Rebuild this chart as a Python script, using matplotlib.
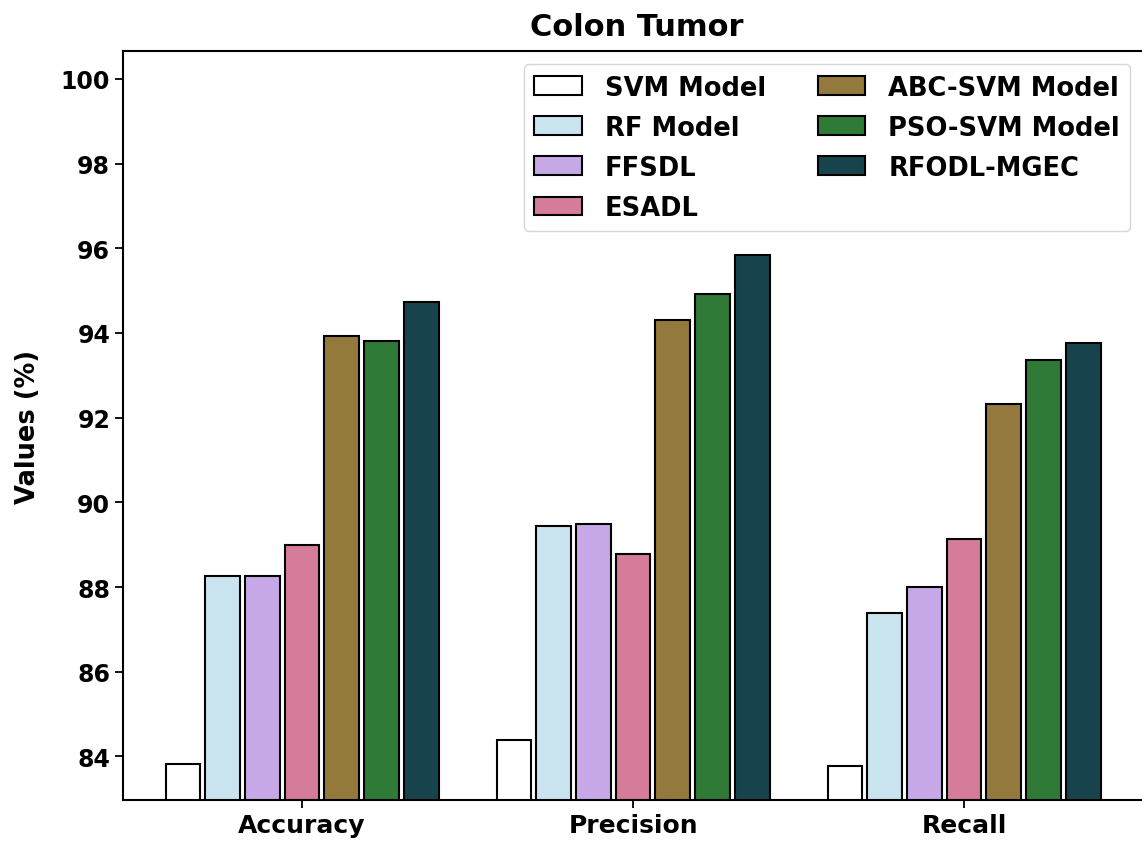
import numpy as np
import matplotlib.pyplot as plt

metrics = ['Accuracy', 'Precision', 'Recall']
models = ['SVM Model', 'RF Model', 'FFSDL', 'ESADL',
          'ABC-SVM Model', 'PSO-SVM Model', 'RFODL-MGEC']

svm = [83.83, 84.38, 83.77]
rf = [88.27, 89.45, 87.38]
ffsdl = [88.26, 89.49, 87.99]
esadl = [89.00, 88.78, 89.13]
abc_svm = [93.94, 94.31, 92.32]
pso_svm = [93.82, 94.91, 93.37]
rfodl_mgec = [94.74, 95.83, 93.76]

colors = ['#ffffff', '#c9e4ee', '#c6a8e6', '#d47c99',
          '#937a3c', '#2f7a36', '#17444c']

series = [svm, rf, ffsdl, esadl, abc_svm, pso_svm, rfodl_mgec]

plt.rcParams['font.weight'] = 'bold'
fig = plt.figure(figsize=(11.42, 8.45), dpi=100)
# right edge of the axes sits just past the canvas
ax = fig.add_axes([0.108, 0.052, 0.9, 0.886])

x = np.arange(len(metrics))
step = 0.12
width = 0.105
for i, vals in enumerate(series):
    ax.bar(x + (i - 3) * step, vals, width, color=colors[i],
           edgecolor='black', linewidth=1.5, label=models[i])

ax.set_xlim(-0.54, 2.565)
ax.set_ylim(82.97, 100.65)
ax.set_xticks(x)
ax.set_xticklabels(metrics, fontsize=18, fontweight='bold')
ax.set_yticks(np.arange(84, 101, 2))
ax.tick_params(axis='y', labelsize=17)
for lab in ax.get_yticklabels():
    lab.set_fontweight('bold')
ax.tick_params(width=1.3, length=6)
for s in ax.spines.values():
    s.set_linewidth(1.5)
ax.set_ylabel('Values (%)', fontsize=18.5, fontweight='bold', labelpad=14)
ax.set_title('Colon Tumor', fontsize=22, fontweight='bold', pad=12)

ax.legend(ncol=2, loc='upper right', prop={'weight': 'bold', 'size': 18.5},
          bbox_to_anchor=(0.992, 1.0),
          handlelength=1.85, handleheight=0.75, handletextpad=0.9,
          columnspacing=2.0, borderaxespad=0.5, labelspacing=0.55)

fig.savefig('out.png', dpi=100)
